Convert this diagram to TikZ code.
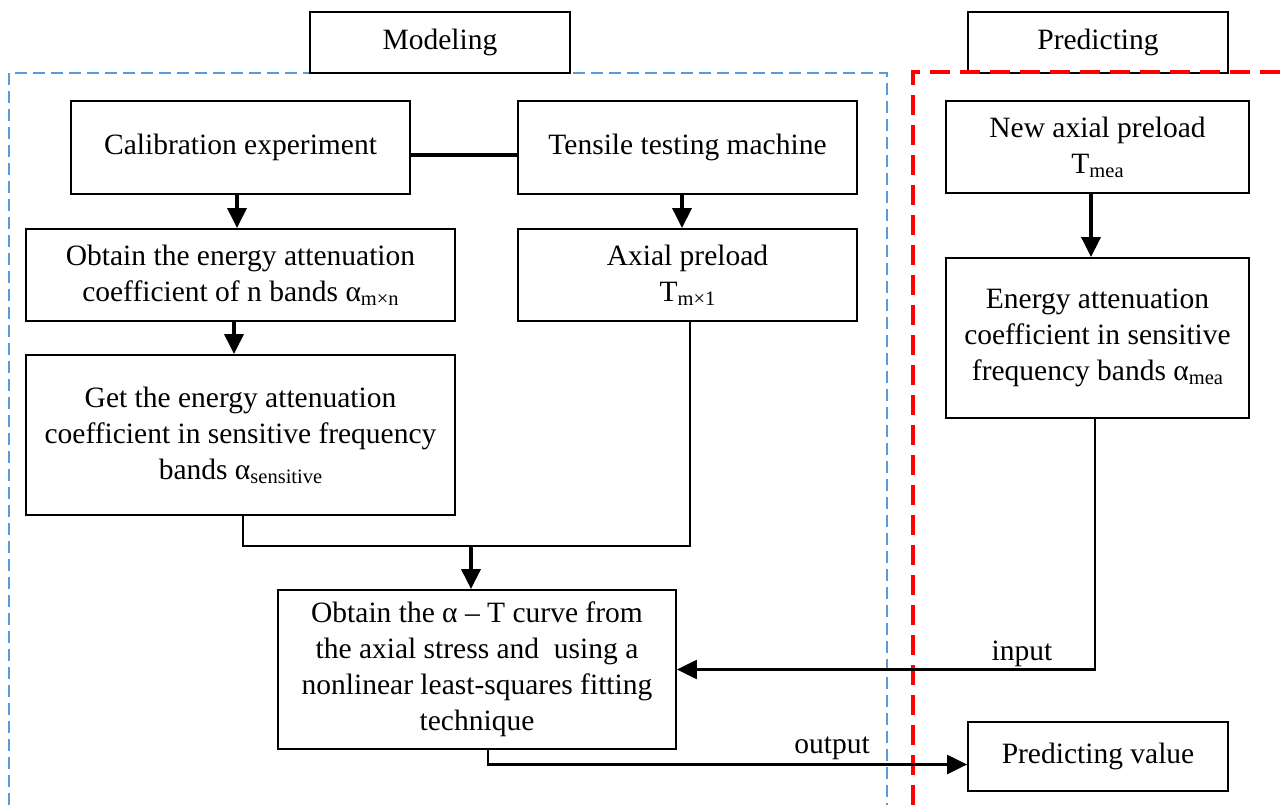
\documentclass[tikz,border=0pt]{standalone}
\usepackage{fontspec}
\setmainfont{Liberation Serif}
\usetikzlibrary{arrows.meta,calc}
\newcommand\sbx[1]{\raisebox{-4pt}{\fontsize{20.5}{20.5}\selectfont #1}}
\definecolor{frameblue}{RGB}{91,155,213}
\begin{document}
\begin{tikzpicture}[x=1pt,y=-1pt,
  font=\fontsize{29.5}{36}\selectfont,
  box/.style={draw, line width=1.8pt, fill=white, inner sep=0pt, align=center},
  arr/.style={line width=3.3pt, -{Triangle[length=20pt,width=19pt]}},
  thinarr/.style={line width=2.3pt, -{Triangle[length=20pt,width=19pt]}},
  link/.style={line width=2.8pt},
  lbl/.style={anchor=base, inner sep=0pt}]
\useasboundingbox (0,0) rectangle (1280,805);
\fill[white] (0,0) rectangle (1280,805);
% blue dashed frame
\draw[frameblue, line width=1.6pt, dash pattern=on 12pt off 6pt] (9,805) -- (9,73) -- (887,73) -- (887,805);
% boxes
\node[box, minimum width=260, minimum height=61] (model) at (440,42.5) {Modeling};
\node[box, minimum width=260, minimum height=61] (predict) at (1098,42.5) {Predicting};
\node[box, minimum width=339, minimum height=93] (calib) at (240.5,147.5) {Calibration experiment};
\node[box, minimum width=339, minimum height=93] (tensile) at (687.5,147.5) {Tensile testing machine};
\node[box, minimum width=429, minimum height=92] (obtain) at (240.5,275) {Obtain the energy attenuation\\coefficient of n bands α\sbx{m×n}};
\node[box, minimum width=339, minimum height=92] (axial) at (687.5,275) {Axial preload\\T\sbx{m×1}};
\node[box, minimum width=429, minimum height=160] (get) at (240.5,435) {Get the energy attenuation\\coefficient in sensitive frequency\\bands α\sbx{sensitive}};
\node[box, minimum width=398, minimum height=159] (fit) at (477,669.5) {Obtain the α – T curve from\\the axial stress and \ using a\\nonlinear least-squares fitting\\technique};
\node[box, minimum width=303, minimum height=92] (newax) at (1097.5,147) {New axial preload\\T\sbx{mea}};
\node[box, minimum width=303, minimum height=160] (energy) at (1097.5,338) {Energy attenuation\\coefficient in sensitive\\frequency bands α\sbx{mea}};
\node[box, minimum width=260, minimum height=69] (pval) at (1098,756.5) {Predicting value};
% red dashed frame
\draw[red, line width=3.5pt, dash pattern=on 20pt off 10pt] (913,805) -- (913,72) -- (1280,72);
% connectors
\draw[line width=3.3pt] ($(calib.east)+(0,7.5)$) -- ($(tensile.west)+(0,7.5)$);
\draw[arr] ($(calib.south)+(-3.5,0)$) -- ($(obtain.north)+(-3.5,0)$);
\draw[arr] ($(obtain.south)+(-6.5,0)$) -- ($(get.north)+(-6.5,0)$);
\draw[arr] ($(tensile.south)+(-5.5,0)$) -- ($(axial.north)+(-5.5,0)$);
\draw[arr] ($(newax.south)+(-6.5,0)$) -- ($(energy.north)+(-6.5,0)$);
\coordinate (bus) at (471,546);
\draw[link] ($(get.south)+(2.5,0)$) |- (bus) -| ($(axial.south)+(2.5,0)$);
\draw[arr] (bus) -- (fit.north -| bus);
\draw[thinarr] ($(energy.south)+(-2.5,0)$) |- (fit.east);
\draw[thinarr] ($(fit.south)+(11,0)$) |- ($(pval.west)+(0,8)$);
\node[lbl] (inlbl) at (1022,660) {input};
\node[lbl] (outlbl) at (832,753) {output};
\end{tikzpicture}
\end{document}
